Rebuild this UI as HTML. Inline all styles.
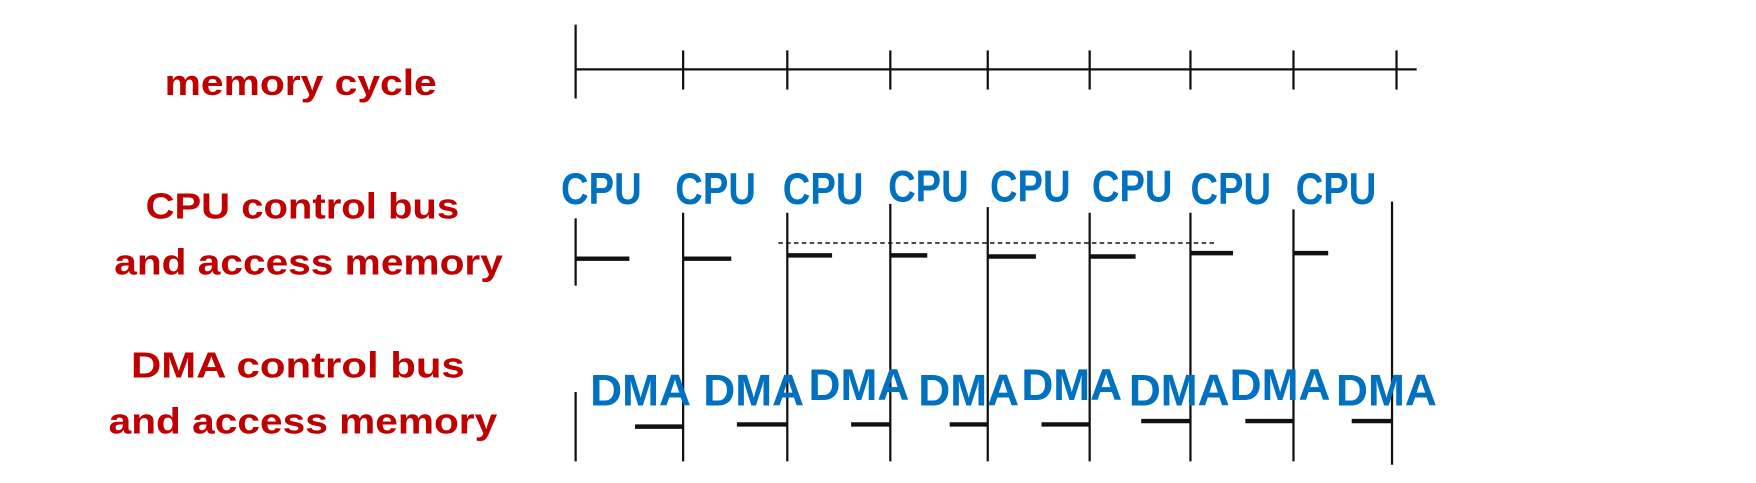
<!DOCTYPE html>
<html><head><style>html,body{margin:0;padding:0;background:#fff}svg{display:block}</style></head>
<body>
<svg width="1756" height="483" viewBox="0 0 1568 431.3" preserveAspectRatio="none" xmlns="http://www.w3.org/2000/svg" font-family="Liberation Sans, sans-serif" font-weight="bold">
<g fill="#c00000" font-size="32">
<text x="147" y="85" textLength="243" lengthAdjust="spacingAndGlyphs">memory cycle</text>
<text x="130" y="195" textLength="280" lengthAdjust="spacingAndGlyphs">CPU control bus</text>
<text x="102" y="245" textLength="347" lengthAdjust="spacingAndGlyphs">and access memory</text>
<text x="117" y="337" textLength="298" lengthAdjust="spacingAndGlyphs">DMA control bus</text>
<text x="97" y="387" textLength="347" lengthAdjust="spacingAndGlyphs">and access memory</text>
</g>
<g stroke="#111" stroke-width="2" fill="none">
<line x1="514" y1="62" x2="1265" y2="62"/>
<line x1="514" y1="22" x2="514" y2="88"/>
<line x1="610" y1="45" x2="610" y2="80"/>
<line x1="703" y1="45" x2="703" y2="80"/>
<line x1="795" y1="45" x2="795" y2="80"/>
<line x1="882" y1="45" x2="882" y2="80"/>
<line x1="973" y1="45" x2="973" y2="80"/>
<line x1="1063" y1="45" x2="1063" y2="80"/>
<line x1="1155" y1="45" x2="1155" y2="80"/>
<line x1="1247" y1="45" x2="1247" y2="80"/>
<line x1="514" y1="195" x2="514" y2="255"/>
<line x1="610" y1="190" x2="610" y2="412"/>
<line x1="703" y1="190" x2="703" y2="412"/>
<line x1="795" y1="182" x2="795" y2="412"/>
<line x1="882" y1="185" x2="882" y2="412"/>
<line x1="973" y1="190" x2="973" y2="412"/>
<line x1="1063" y1="190" x2="1063" y2="412"/>
<line x1="1155" y1="187" x2="1155" y2="412"/>
<line x1="1243" y1="180" x2="1243" y2="415"/>
<line x1="514" y1="350" x2="514" y2="412"/>
<line x1="695" y1="217" x2="1085" y2="217" stroke-width="1.3" stroke-dasharray="4 3"/>
</g>
<g stroke="#111" stroke-width="4">
<line x1="514" y1="231" x2="562" y2="231"/>
<line x1="610" y1="231" x2="653" y2="231"/>
<line x1="703" y1="228" x2="743" y2="228"/>
<line x1="795" y1="228" x2="828" y2="228"/>
<line x1="882" y1="229" x2="925" y2="229"/>
<line x1="973" y1="229" x2="1014" y2="229"/>
<line x1="1063" y1="226" x2="1101" y2="226"/>
<line x1="1155" y1="226" x2="1186" y2="226"/>
<line x1="567" y1="381" x2="610" y2="381"/>
<line x1="658" y1="379" x2="703" y2="379"/>
<line x1="760" y1="379" x2="795" y2="379"/>
<line x1="848" y1="379" x2="882" y2="379"/>
<line x1="930" y1="379" x2="973" y2="379"/>
<line x1="1019" y1="376" x2="1063" y2="376"/>
<line x1="1112" y1="376" x2="1155" y2="376"/>
<line x1="1207" y1="376" x2="1243" y2="376"/>
</g>
<g fill="#0070c0" font-size="40">
<text x="501" y="182" textLength="72" lengthAdjust="spacingAndGlyphs">CPU</text>
<text x="603" y="182" textLength="72" lengthAdjust="spacingAndGlyphs">CPU</text>
<text x="699" y="182" textLength="72" lengthAdjust="spacingAndGlyphs">CPU</text>
<text x="793" y="180" textLength="72" lengthAdjust="spacingAndGlyphs">CPU</text>
<text x="884" y="180" textLength="72" lengthAdjust="spacingAndGlyphs">CPU</text>
<text x="975" y="180" textLength="72" lengthAdjust="spacingAndGlyphs">CPU</text>
<text x="1063" y="182" textLength="72" lengthAdjust="spacingAndGlyphs">CPU</text>
<text x="1157" y="182" textLength="72" lengthAdjust="spacingAndGlyphs">CPU</text>
<text x="527" y="362" textLength="90" lengthAdjust="spacingAndGlyphs">DMA</text>
<text x="628" y="362" textLength="90" lengthAdjust="spacingAndGlyphs">DMA</text>
<text x="722" y="357" textLength="90" lengthAdjust="spacingAndGlyphs">DMA</text>
<text x="820" y="362" textLength="90" lengthAdjust="spacingAndGlyphs">DMA</text>
<text x="912" y="357" textLength="90" lengthAdjust="spacingAndGlyphs">DMA</text>
<text x="1008" y="362" textLength="90" lengthAdjust="spacingAndGlyphs">DMA</text>
<text x="1098" y="357" textLength="90" lengthAdjust="spacingAndGlyphs">DMA</text>
<text x="1193" y="362" textLength="90" lengthAdjust="spacingAndGlyphs">DMA</text>
</g>
</svg>
</body></html>
